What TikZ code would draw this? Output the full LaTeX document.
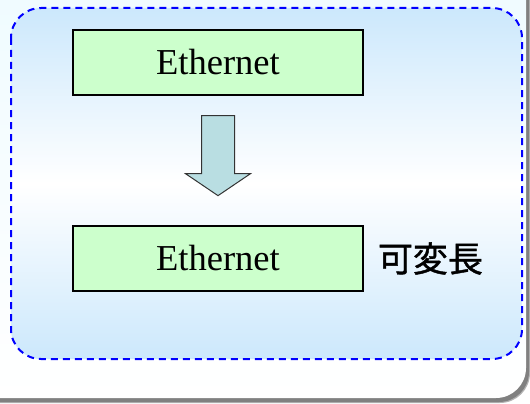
\documentclass[tikz,border=0pt]{standalone}
\usepackage{fontspec}
\setmainfont{Liberation Serif}
\newfontfamily\cjkfont[FakeBold=1.2]{Noto Sans CJK JP}
\definecolor{panelblue}{RGB}{204,232,252}
\definecolor{paneltop}{RGB}{238,251,255}
\definecolor{boxgreen}{RGB}{204,255,204}
\definecolor{arrowfill}{RGB}{185,222,226}
\definecolor{shadowgray}{RGB}{128,128,128}
\begin{document}
\begin{tikzpicture}[x=1pt,y=-1pt,
  etherbox/.style={draw=black, line width=1.3pt, fill=boxgreen,
    minimum width=290pt, minimum height=65pt, inner sep=0pt,
    font=\fontsize{36.5}{40}\selectfont},
  blockarrow/.style={draw=black!80, line width=1pt, fill=arrowfill, line join=miter},
  dashframe/.style={draw=blue, line width=2pt, dash pattern=on 7pt off 5pt,
    rounded corners=30pt},
  sidelabel/.style={font=\cjkfont\fontsize{35}{40}\selectfont, inner sep=0pt}]
\useasboundingbox (0,0) rectangle (530,404);
\clip (0,0) rectangle (530,404);
% outer card with its drop shadow
\fill[shadowgray!60, rounded corners=30pt] (-36,-36) rectangle (530,403);
\fill[shadowgray, rounded corners=30pt] (-37,-37) rectangle (529,402);
\shade[top color=paneltop, bottom color=white, rounded corners=30pt]
  (-40,-40) rectangle (526,398);
% inner dashed panel: blue at top and bottom, white across the middle
\shade[top color=panelblue, bottom color=panelblue, middle color=white,
  rounded corners=30pt] (11,8) rectangle (522,359);
\draw[dashframe] (11,8) rectangle (522,359);
% frames
\node[etherbox] (top) at (218,62.5) {Ethernet};
\node[etherbox] (bot) at (218,258.5) {Ethernet};
\node[sidelabel, anchor=west] (len) at ([xshift=14pt]bot.east) {可変長};
% block arrow between the frames
\draw[blockarrow]
  ([xshift=-16.5pt,yshift=-20pt]top.south) -- ([xshift=16.5pt,yshift=-20pt]top.south)
  -- ([xshift=16.5pt,yshift=-78pt]top.south) -- ([xshift=32.5pt,yshift=-78pt]top.south)
  -- ([yshift=-100pt]top.south) -- ([xshift=-32.5pt,yshift=-78pt]top.south)
  -- ([xshift=-16.5pt,yshift=-78pt]top.south) -- cycle;
\end{tikzpicture}
\end{document}
